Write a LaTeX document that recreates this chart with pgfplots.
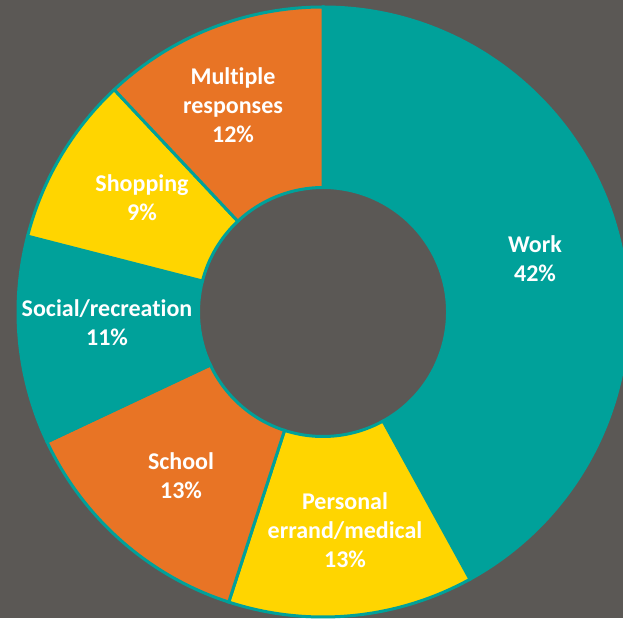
\documentclass[border=0pt]{standalone}
\usepackage{pgfplots}
\usepackage{pgfplotstable}
\pgfplotsset{compat=1.18}
\usepackage{fontspec}
\setmainfont{Carlito}[Ligatures=NoCommon]

\definecolor{bg}{HTML}{5B5855}
\definecolor{dteal}{HTML}{00A19A}
\definecolor{dorange}{HTML}{E87425}
\definecolor{dyellow}{HTML}{FFD500}
\colorlet{slice0}{dteal}   % Work
\colorlet{slice1}{dyellow} % Personal errand/medical
\colorlet{slice2}{dorange} % School
\colorlet{slice3}{dteal}   % Social/recreation
\colorlet{slice4}{dyellow} % Shopping
\colorlet{slice5}{dorange} % Multiple responses

% shares in percent, clockwise from 12 o'clock
\pgfplotstableread{
share
42
13
13
11
9
12
}\shares

\newcommand\Ro{305}
\newcommand\Ri{124.5}
\newcommand\cx{323}
\newcommand\cy{306}

\begin{document}
\begin{tikzpicture}
  % start/end angles of each slice
  \xdef\cum{0}
  \foreach \i in {0,...,5}{%
    \pgfplotstablegetelem{\i}{share}\of\shares
    \pgfmathsetmacro\angs{90-3.6*\cum}%
    \pgfmathsetmacro\ange{90-3.6*(\cum+\pgfplotsretval)}%
    \expandafter\xdef\csname sa\i\endcsname{\angs}%
    \expandafter\xdef\csname ea\i\endcsname{\ange}%
    \pgfmathsetmacro\newcum{\cum+\pgfplotsretval}%
    \xdef\cum{\newcum}%
  }
  \begin{axis}[
      x=1pt, y=1pt,
      xmin=0, xmax=623, ymin=0, ymax=618,
      scale only axis, hide axis,
      clip=true, clip bounding box=upper bound,
    ]
    \fill[bg] (axis cs:0,0) rectangle (axis cs:623,618);
    \pgfplotsinvokeforeach{0,...,5}{
      \filldraw[fill=slice#1, draw=dteal, line width=3pt]
        (axis cs:{\cx+\Ro*cos(\csname sa#1\endcsname)},{\cy+\Ro*sin(\csname sa#1\endcsname)})
        arc[start angle=\csname sa#1\endcsname, end angle=\csname ea#1\endcsname, radius=\Ro pt]
        -- (axis cs:{\cx+\Ri*cos(\csname ea#1\endcsname)},{\cy+\Ri*sin(\csname ea#1\endcsname)})
        arc[start angle=\csname ea#1\endcsname, end angle=\csname sa#1\endcsname, radius=\Ri pt] -- cycle;
    }
    \begin{scope}[every node/.style={font=\fontsize{24}{29}\selectfont\bfseries, text=white, align=center}]
    \node at (axis cs:535,359) {Work\\42\%};
    \node at (axis cs:345,88) {Personal\\errand/medical\\13\%};
    \node at (axis cs:181,142) {School\\13\%};
    \node at (axis cs:107,295) {Social/recreation\\11\%};
    \node at (axis cs:142,420) {Shopping\\9\%};
    \node at (axis cs:233,513) {Multiple\\responses\\12\%};
    \end{scope}
  \end{axis}
\end{tikzpicture}
\end{document}
